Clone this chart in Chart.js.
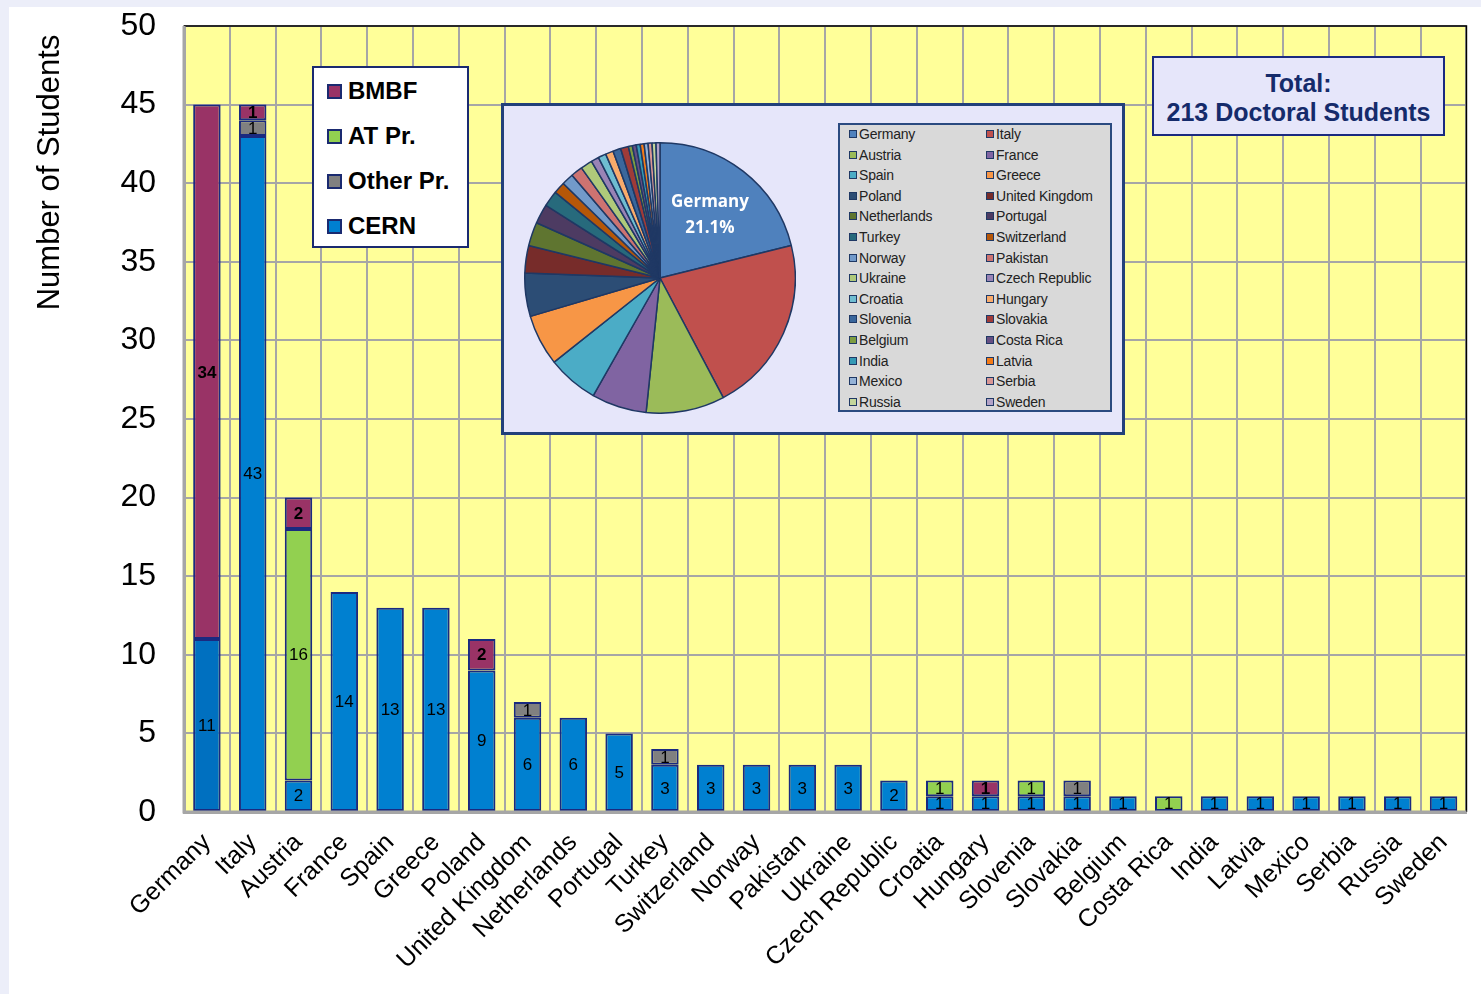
<!DOCTYPE html>
<html>
<head>
<meta charset="utf-8">
<script src="https://cdn.jsdelivr.net/npm/chart.js@4.4.1/dist/chart.umd.min.js"></script>
<style>
  html, body { margin:0; padding:0; }
  body { width:1481px; height:994px; background:#eceef9; position:relative; overflow:hidden; font-family:"Liberation Sans", Arial, sans-serif; }
  #panel { position:absolute; left:9px; top:7px; width:1472px; height:987px; background:#ffffff; }
  #main { position:absolute; left:0; top:0; }
  #legend { position:absolute; left:312px; top:66px; width:153px; height:178px; background:#fff; border:2px solid #1a2a70; box-sizing:content-box; }
  #legend .item { position:absolute; left:13px; height:30px; display:flex; align-items:center; font-weight:bold; font-size:24px; color:#000; }
  #legend .sw { width:11px; height:11px; border:2px solid #1a2a70; margin-right:6px; }
  #inset { position:absolute; left:501px; top:103px; width:618px; height:326px; background:#e6e6fa; border:3px solid #22407a; }
  #pie { position:absolute; left:20px; top:36px; }
  #pieLegend { position:absolute; left:334px; top:17px; width:270px; height:285px; background:#d9d9d9; border:2px solid #2a4a80; }
  #pieLegend .pi { position:absolute; height:20px; display:flex; align-items:center; font-size:14px; color:#222; letter-spacing:-0.2px; }
  #pieLegend .ps { width:6px; height:6px; border:1.5px solid #1f3864; margin-right:2px; }
  #total { position:absolute; left:1152px; top:56px; width:293px; height:80px; background:#e6e6fa; border:2px solid #1a2a80; color:#152b6b; font-weight:bold; font-size:25px; text-align:center; line-height:29px; padding-top:11px; box-sizing:border-box; }
</style>
</head>
<body>
<div id="panel"></div>
<canvas id="main" width="1481" height="994"></canvas>
<div id="legend"></div>
<div id="inset"><canvas id="pie" width="272" height="272"></canvas><div id="pieLegend"></div></div>
<div id="total">Total:<br>213 Doctoral Students</div>
<script>
// ---------------- DATA ----------------
const categories = ["Germany","Italy","Austria","France","Spain","Greece","Poland","United Kingdom","Netherlands","Portugal","Turkey","Switzerland","Norway","Pakistan","Ukraine","Czech Republic","Croatia","Hungary","Slovenia","Slovakia","Belgium","Costa Rica","India","Latvia","Mexico","Serbia","Russia","Sweden"];
const cern     = [11,43,2,14,13,13,9,6,6,5,3,3,3,3,3,2,1,1,1,1,1,0,1,1,1,1,1,1];
const otherPr  = [0,1,0,0,0,0,0,1,0,0,1,0,0,0,0,0,0,0,0,1,0,0,0,0,0,0,0,0];
const atPr     = [0,0,16,0,0,0,0,0,0,0,0,0,0,0,0,0,1,0,1,0,0,1,0,0,0,0,0,0];
const bmbf     = [34,1,2,0,0,0,2,0,0,0,0,0,0,0,0,0,0,1,0,0,0,0,0,0,0,0,0,0];
const seriesNames = ["CERN","Other Pr.","AT Pr.","BMBF"];
const yTicks = [0,5,10,15,20,25,30,35,40,45,50];

// ---------------- STYLES ----------------
const seriesColors = ["#0080d0","#808080","#92d050","#993366"];
const barBorder = "#1a2a80";
const pieColors = ["#4f81bd","#c0504d","#9bbb59","#8064a2","#4bacc6","#f79646",
                   "#2c4d75","#772c2a","#5f7530","#4d3b62","#276a7c","#b65708",
                   "#729aca","#cd7371","#afc97a","#9983b5","#6fbdd1","#f9ab6b",
                   "#3a679c","#9f3b38","#7e9d40","#664f83","#359ab5","#f47b17",
                   "#95b3d7","#d99694","#c3d69b","#b3a2c7"];

const allSeries = [cern, otherPr, atPr, bmbf];

const barLabels = {
  id:'barLabels',
  afterDatasetsDraw(chart){
    const ctx = chart.ctx;
    chart.data.datasets.forEach((ds, di) => {
      const meta = chart.getDatasetMeta(di);
      meta.data.forEach((el, i) => {
        const v = ds.data[i];
        if (!v) return;
        const p = el.getProps(['x','y','base'], true);
        ctx.save();
        ctx.font = (di === 3 ? 'bold ' : '') + '17px "Liberation Sans", Arial, sans-serif';
        ctx.fillStyle = '#000';
        ctx.textAlign = 'center';
        ctx.textBaseline = 'middle';
        ctx.fillText(String(v), p.x, (p.y + p.base)/2 + 1);
        ctx.restore();
      });
    });
  }
};
const plotBg = {
  id:'plotBg',
  beforeDraw(chart){
    const {ctx, chartArea:a} = chart;
    ctx.save(); ctx.fillStyle = '#ffff99'; ctx.fillRect(a.left, a.top, a.right-a.left, a.bottom-a.top); ctx.restore();
  },
  afterDraw(chart){
    const {ctx, chartArea:a} = chart;
    ctx.save(); ctx.strokeStyle = '#000'; ctx.lineWidth = 1.5;
    ctx.beginPath(); ctx.moveTo(a.left, a.top); ctx.lineTo(a.right, a.top); ctx.lineTo(a.right, a.bottom); ctx.stroke();
    ctx.strokeStyle = '#a6a6a6'; ctx.lineWidth = 3;
    ctx.beginPath(); ctx.moveTo(a.left, a.top); ctx.lineTo(a.left, a.bottom); ctx.lineTo(a.right, a.bottom); ctx.stroke();
    ctx.restore();
  }
};

const datasets = allSeries.map((arr, k) => ({
  label: seriesNames[k],
  data: arr.map(v => v === 0 ? null : v),
  backgroundColor: k === 0 ? arr.map((v,i) => i === 0 ? '#0070c0' : seriesColors[0]) : seriesColors[k],
  borderColor: barBorder,
  borderWidth: 2,
  borderSkipped: false,
  categoryPercentage: 1.0,
  barPercentage: 0.6,
  stack: 's'
}));

new Chart(document.getElementById('main'), {
  type: 'bar',
  data: { labels: categories, datasets },
  options: {
    responsive: false,
    animation: false,
    layout: { padding: { left: 10, right: 13, top: 26, bottom: 0 } },
    plugins: { legend: { display:false }, tooltip: { enabled:false } },
    scales: {
      x: {
        stacked: true,
        grid: { color:'#a6a6a6', lineWidth:2, offset:true, drawTicks:false },
        border: { color:'#a6a6a6', width:3 },
        ticks: { color:'#000', font:{ size:25, family:'"Liberation Sans", Arial, sans-serif' }, minRotation:45, maxRotation:45, autoSkip:false, padding:16 },
        afterFit(s){ s.height = 994 - 812; }
      },
      y: {
        stacked: true,
        min: 0, max: 50,
        afterBuildTicks(s){ s.ticks = yTicks.map(v => ({ value: v })); },
        grid: { color:'#a6a6a6', lineWidth:2, drawTicks:true, tickLength:28, tickColor:'rgba(0,0,0,0)' },
        border: { color:'#a6a6a6', width:3 },
        ticks: { color:'#000', font:{ size:32, family:'"Liberation Sans", Arial, sans-serif' }, padding:0 },
        title: { display:true, text:'Number of Students ', color:'#000', align:'end', font:{ size:31, family:'"Liberation Sans", Arial, sans-serif' }, padding:{ top:22, bottom:0 } },
        afterFit(s){ s.width = 184 - 10; }
      }
    }
  },
  plugins: [plotBg, barLabels]
});

const leg = document.getElementById('legend');
[3,2,1,0].forEach((k, r) => {
  const d = document.createElement('div');
  d.className = 'item';
  d.style.top = (8 + r*45) + 'px';
  d.innerHTML = '<span class="sw" style="background:' + seriesColors[k] + '"></span>' + seriesNames[k];
  leg.appendChild(d);
});

const totals = categories.map((c, i) => cern[i] + otherPr[i] + atPr[i] + bmbf[i]);
const sumAll = totals.reduce((a,b) => a+b, 0);
const pieLabel = {
  id:'pieLabel',
  afterDatasetsDraw(chart){
    const el = chart.getDatasetMeta(0).data[0];
    const p = el.getProps(['x','y','startAngle','endAngle','outerRadius'], true);
    const mid = (p.startAngle + p.endAngle)/2;
    const r = p.outerRadius * 0.6;
    const x = p.x + Math.cos(mid)*r, y = p.y + Math.sin(mid)*r;
    const ctx = chart.ctx;
    ctx.save();
    ctx.fillStyle = '#fff';
    ctx.font = 'bold 17px "Open Sans", sans-serif';
    ctx.textAlign = 'center'; ctx.textBaseline = 'middle';
    ctx.fillText(categories[0], x, y - 12);
    ctx.fillText((totals[0]/sumAll*100).toFixed(1) + '%', x, y + 14);
    ctx.restore();
  }
};
new Chart(document.getElementById('pie'), {
  type: 'pie',
  data: { labels: categories, datasets: [{ data: totals, backgroundColor: pieColors, borderColor:'#1f3864', borderWidth:1.5 }] },
  options: { responsive:false, animation:false, layout:{ padding:0 }, plugins:{ legend:{ display:false }, tooltip:{ enabled:false } } },
  plugins: [pieLabel]
});

const pl = document.getElementById('pieLegend');
categories.forEach((c, i) => {
  const d = document.createElement('div');
  d.className = 'pi';
  const col = i % 2, row = Math.floor(i / 2);
  d.style.left = (col === 0 ? 9 : 146) + 'px';
  d.style.top = (-1 + row * 20.6) + 'px';
  d.innerHTML = '<span class="ps" style="background:' + pieColors[i] + '"></span>' + c;
  pl.appendChild(d);
});
</script>
</body>
</html>
